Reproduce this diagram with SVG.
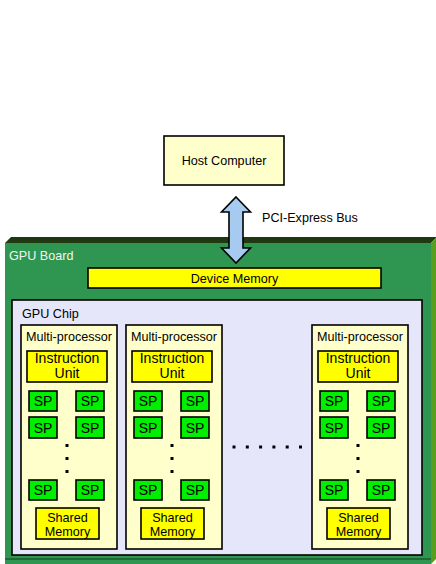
<svg xmlns="http://www.w3.org/2000/svg" width="436" height="564" viewBox="0 0 436 564">
<style>
text{font-family:"Liberation Sans",Arial,sans-serif;font-size:12.6px;fill:#000;text-anchor:middle}
.lbl{text-anchor:start}
.w{fill:#f4f4f4}
.box{stroke:#000;stroke-width:1.6}
.cream{fill:#ffffcc}
.yel{fill:#ffff00}
.sp{fill:#00ee00}
.big{font-size:14px}
.dot{fill:#000}
</style>
<rect width="436" height="564" fill="#fff"/>
<g id="gpu-board">
  <polygon points="5,243 11,237 437,237 431,243" fill="#1f3a10"/>
  <polygon points="431,243 437,237 437,558 431,564" fill="#5a9e1e"/>
  <rect x="5" y="243" width="426" height="321" fill="#2e9650"/>
  <line x1="5" y1="559" x2="431" y2="559" stroke="#1f5a30" stroke-width="1.5"/>
  <text class="lbl w" x="9" y="260">GPU Board</text>
</g>
<g id="host-computer">
  <rect class="box cream" x="164" y="136" width="120" height="49"/>
  <text x="224" y="165">Host Computer</text>
</g>
<g id="connectors">
  <polygon points="236,197 250.5,212 243,212 243,248 250.5,248 236,263 221.5,248 229,248 229,212 221.5,212" fill="#a6caf0" stroke="#000" stroke-width="1.6" stroke-linejoin="miter"/>
  <text class="lbl" x="262" y="222">PCI-Express Bus</text>
</g>
<g id="device-memory">
  <rect class="box yel" x="88" y="268" width="293" height="20"/>
  <text x="234.5" y="283">Device Memory</text>
</g>
<g id="gpu-chip">
  <rect class="box" x="12" y="300" width="410" height="255" fill="#e6e6fa"/>
  <text class="lbl" x="22" y="318">GPU Chip</text>
</g>
<defs>
  <g id="mp">
    <rect class="box cream" x="0" y="0" width="96" height="224"/>
    <text x="48" y="16">Multi-processor</text>
    <rect class="box yel" x="6" y="26" width="80" height="31"/>
    <text class="big" x="46" y="38">Instruction</text>
    <text class="big" x="46" y="53">Unit</text>
    <rect class="box sp" x="8" y="66" width="28" height="20"/>
    <text class="big" x="22" y="81">SP</text>
    <rect class="box sp" x="55" y="66" width="28" height="20"/>
    <text class="big" x="69" y="81">SP</text>
    <rect class="box sp" x="8" y="92" width="28" height="21"/>
    <text class="big" x="22" y="107.5">SP</text>
    <rect class="box sp" x="55" y="92" width="28" height="21"/>
    <text class="big" x="69" y="107.5">SP</text>
    <rect class="dot" x="44.5" y="119" width="3" height="3"/>
    <rect class="dot" x="44.5" y="132" width="3" height="3"/>
    <rect class="dot" x="44.5" y="145" width="3" height="3"/>
    <rect class="box sp" x="8" y="155" width="28" height="20"/>
    <text class="big" x="22" y="170">SP</text>
    <rect class="box sp" x="55" y="155" width="28" height="20"/>
    <text class="big" x="69" y="170">SP</text>
    <rect class="box yel" x="15" y="183" width="63" height="31"/>
    <text x="46.5" y="196.5">Shared</text>
    <text x="46.5" y="210.5">Memory</text>
  </g>
</defs>
<g id="multiprocessor-1"><use href="#mp" x="21" y="325"/></g>
<g id="multiprocessor-2"><use href="#mp" x="126" y="325"/></g>
<g id="multiprocessor-3"><use href="#mp" x="312" y="325"/></g>
<g id="ellipsis">
  <rect class="dot" x="232.5" y="445.5" width="3" height="3"/>
  <rect class="dot" x="245.8" y="445.5" width="3" height="3"/>
  <rect class="dot" x="259.1" y="445.5" width="3" height="3"/>
  <rect class="dot" x="272.4" y="445.5" width="3" height="3"/>
  <rect class="dot" x="285.7" y="445.5" width="3" height="3"/>
  <rect class="dot" x="299" y="445.5" width="3" height="3"/>
</g>
</svg>
